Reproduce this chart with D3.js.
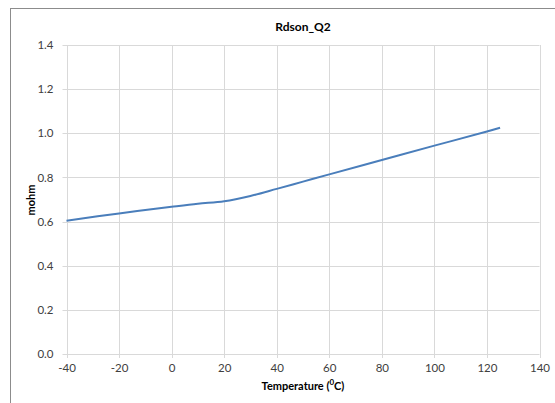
<!DOCTYPE html>
<html>
<head>
<meta charset="utf-8">
<script src="https://cdn.jsdelivr.net/npm/d3@7"></script>
<style>
  body { margin: 0; background: #fff; }
  text { font-family: Lato, "Open Sans", sans-serif; fill: #333; }
  .titleText { font-size: 12px; font-weight: bold; fill: #000; }
  .axisTitle { font-size: 11px; font-weight: bold; fill: #000; }
  .tick text { font-size: 11.5px; fill: #404040; }
</style>
</head>
<body>
<div id="chart"></div>
<script>
// data
var temperature = [-40, -20, 0, 10, 20, 30, 40, 50, 60, 80, 100, 120, 125];
var rdson = [0.604, 0.637, 0.667, 0.681, 0.692, 0.716, 0.748, 0.781, 0.814, 0.879, 0.944, 1.008, 1.025];
var xTicks = [-40, -20, 0, 20, 40, 60, 80, 100, 120, 140];
var yTicks = [0, 0.2, 0.4, 0.6, 0.8, 1.0, 1.2, 1.4];

var width = 555, height = 403;
var plot = { left: 66.5, right: 539.5, top: 45, bottom: 354 };

var svg = d3.select("#chart").append("svg")
	.attr("width", width)
	.attr("height", height);

// chart frame
svg.append("rect")
	.attr("x", 10.5)
	.attr("y", 8.5)
	.attr("width", 560)
	.attr("height", 420)
	.attr("fill", "#fff")
	.attr("stroke", "#8c8c8c")
	.attr("stroke-width", 1);

var x = d3.scaleLinear().domain([-40, 140]).range([plot.left, plot.right]);
var y = d3.scaleLinear().domain([0, 1.4]).range([plot.bottom, plot.top]);

// gridlines
svg.append("g").selectAll("line.v")
	.data(xTicks)
	.enter().append("line")
	.attr("x1", d => Math.round(x(d)) + 0.5)
	.attr("x2", d => Math.round(x(d)) + 0.5)
	.attr("y1", plot.top)
	.attr("y2", plot.bottom + 4)
	.attr("stroke", "#d9d9d9");

svg.append("g").selectAll("line.h")
	.data(yTicks)
	.enter().append("line")
	.attr("x1", plot.left - 4)
	.attr("x2", plot.right)
	.attr("y1", d => Math.round(y(d)) + 0.5)
	.attr("y2", d => Math.round(y(d)) + 0.5)
	.attr("stroke", "#d9d9d9");

// axes (labels only, lines drawn as grid)
var xAxis = svg.append("g")
	.attr("transform", "translate(0," + plot.bottom + ")")
	.call(d3.axisBottom(x).tickValues(xTicks).tickSize(0).tickPadding(10).tickFormat(d => String(d)));
xAxis.select(".domain").remove();

var yAxis = svg.append("g")
	.attr("transform", "translate(" + plot.left + ",0)")
	.call(d3.axisLeft(y).tickValues(yTicks).tickSize(0).tickPadding(13).tickFormat(d => d.toFixed(1)));
yAxis.select(".domain").remove();

// series
var line = d3.line()
	.x(function(d, i) { return x(temperature[i]); })
	.y(function(d) { return y(d); })
	.curve(d3.curveCatmullRom.alpha(0.5));

svg.append("path")
	.datum(rdson)
	.attr("d", line)
	.attr("fill", "none")
	.attr("stroke", "#4a7ebb")
	.attr("stroke-width", 2);

// titles
svg.append("text")
	.attr("class", "titleText")
	.attr("x", 303)
	.attr("y", 31)
	.attr("text-anchor", "middle")
	.text("Rdson_Q2");

var xt = svg.append("text")
	.attr("class", "axisTitle")
	.attr("x", 303)
	.attr("y", 390)
	.attr("text-anchor", "middle");
xt.append("tspan").text("Temperature (");
xt.append("tspan").attr("baseline-shift", "super").attr("font-size", "8px").text("0");
xt.append("tspan").text("C)");

svg.append("text")
	.attr("class", "axisTitle")
	.attr("transform", "translate(35,200) rotate(-90)")
	.attr("text-anchor", "middle")
	.text("mohm");
</script>
</body>
</html>
